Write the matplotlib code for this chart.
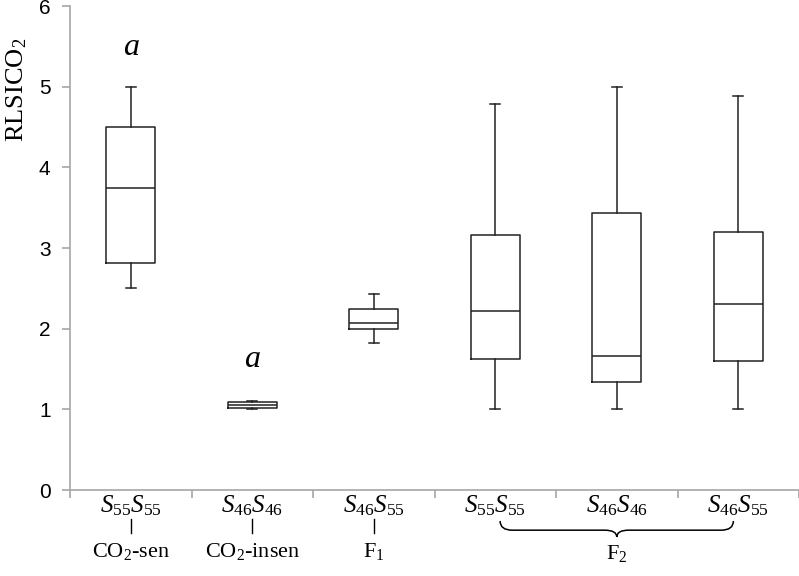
import matplotlib
matplotlib.use('Agg')
import matplotlib.pyplot as plt
from matplotlib.path import Path
import matplotlib.patches as mpatches

plt.rcParams['mathtext.fontset'] = 'custom'
plt.rcParams['mathtext.rm'] = 'Liberation Serif'
plt.rcParams['mathtext.it'] = 'Liberation Serif:italic'

# box statistics: whisker low, Q1, median, Q3, whisker high
genotypes = [r'$S_{55}S_{55}$', r'$S_{46}S_{46}$', r'$S_{46}S_{55}$',
             r'$S_{55}S_{55}$', r'$S_{46}S_{46}$', r'$S_{46}S_{55}$']
groups = [r'CO$_2$-sen', r'CO$_2$-insen', r'F$_1$']
low = [2.50, 1.00, 1.82, 1.00, 1.00, 1.00]
q1 = [2.82, 1.02, 2.00, 1.63, 1.34, 1.60]
med = [3.75, 1.05, 2.07, 2.22, 1.66, 2.30]
q3 = [4.50, 1.09, 2.25, 3.16, 3.44, 3.20]
high = [5.00, 1.10, 2.43, 4.78, 5.00, 4.88]
sig_labels = {0: 5.48, 1: 1.62}

grey = '#a6a6a6'

fig = plt.figure(figsize=(7.99, 5.76), dpi=100)
ax = fig.add_axes([70 / 799, 1 - 490 / 576, 729 / 799, 484 / 576])

stats = []
for i in range(len(med)):
    stats.append(dict(whislo=low[i], q1=q1[i], med=med[i], q3=q3[i], whishi=high[i], fliers=[]))

lw = 1.1
ax.bxp(stats, positions=range(1, 7), widths=0.4, capwidths=0.08, showfliers=False,
       boxprops=dict(color='#222222', linewidth=lw),
       whiskerprops=dict(color='#222222', linewidth=lw),
       capprops=dict(color='#222222', linewidth=lw),
       medianprops=dict(color='#222222', linewidth=lw))

for k, y in sig_labels.items():
    ax.text(k + 1, y, 'a', ha='center', va='center', fontsize=23,
            family='Liberation Serif', style='italic')

ax.set_xlim(0.5, 6.5)
ax.set_ylim(0, 6)
ax.set_yticks(range(7))
ax.set_xticks([0.5 + i for i in range(7)])
ax.set_xticklabels([])
for s in ['top', 'right']:
    ax.spines[s].set_visible(False)
for s in ['left', 'bottom']:
    ax.spines[s].set_color(grey)
    ax.spines[s].set_linewidth(1.2)
ax.tick_params(axis='both', direction='out', length=6, color=grey, width=1.2,
               labelsize=15)
ax.tick_params(axis='y', pad=8)
for t in ax.get_yticklabels():
    t.set_family('Liberation Sans')

fig.text(17 / 799, 1 - 90 / 576, r'RLSICO$_2$', rotation=90, ha='center', va='center',
         fontsize=19, family='Liberation Serif')

# category labels below the axis
trans = ax.get_xaxis_transform()
for i, g in enumerate(genotypes):
    ax.text(i + 1, -0.033, g, ha='center', va='center', fontsize=18,
            transform=trans, clip_on=False)
for i, g in enumerate(groups):
    ax.plot([i + 1, i + 1], [-0.060, -0.088], color='black', lw=1,
            transform=trans, clip_on=False)
    ax.text(i + 1, -0.127, g, ha='center', va='center', fontsize=16,
            family='Liberation Serif', transform=trans, clip_on=False)

# brace under the F2 genotypes
x0, x1, xc = 4.04, 5.96, 5.0
yt, yb, yp = -0.064, -0.083, -0.097
verts = [(x0, yt), (x0, yb), (x0 + 0.1, yb),
         (xc - 0.1, yb),
         (xc, yb), (xc, yp),
         (xc, yb), (xc + 0.1, yb),
         (x1 - 0.1, yb),
         (x1, yb), (x1, yt)]
codes = [Path.MOVETO, Path.CURVE3, Path.CURVE3,
         Path.LINETO,
         Path.CURVE3, Path.CURVE3,
         Path.CURVE3, Path.CURVE3,
         Path.LINETO,
         Path.CURVE3, Path.CURVE3]
brace = mpatches.PathPatch(Path(verts, codes), facecolor='none', edgecolor='black',
                           lw=1.1, transform=trans, clip_on=False)
ax.add_patch(brace)
ax.text(xc, -0.131, r'F$_2$', ha='center', va='center', fontsize=16,
        family='Liberation Serif', transform=trans, clip_on=False)

fig.savefig('out.png', dpi=100)
